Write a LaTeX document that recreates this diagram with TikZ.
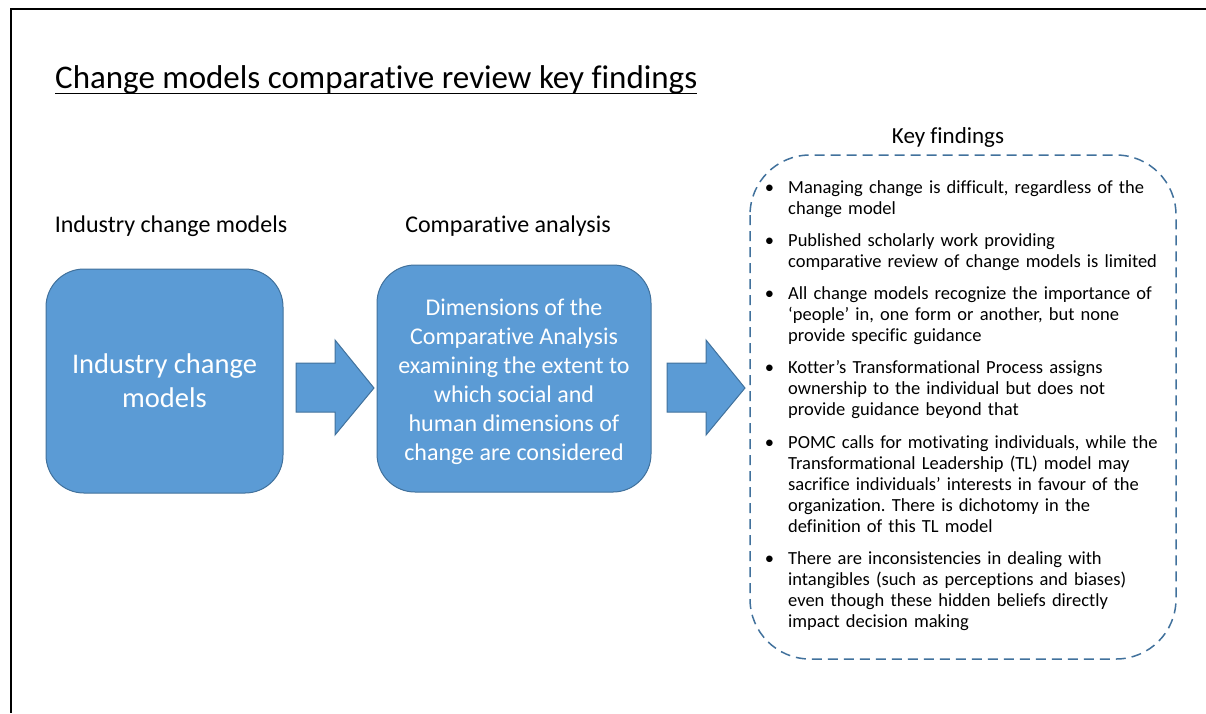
\documentclass[tikz,border=0pt]{standalone}
\usepackage{fontspec}
\setmainfont[Ligatures=CommonOff]{Carlito}
\usepackage{enumitem}
\usetikzlibrary{positioning}
\definecolor{boxblue}{RGB}{91,155,213}
\definecolor{edgeblue}{RGB}{65,113,156}
\frenchspacing
\newcommand*{\BlockArrow}[2]{% #1 = name, #2 = left x
  \draw [blockarrow] (#2,363) -- ++(39,0) -- ++(0,-23) -- ++(39,48)
    -- ++(-39,47) -- ++(0,-23) -- ++(-39,0) -- cycle;
  \coordinate (#1) at (#2+39,388);
}

\begin{document}
\begin{tikzpicture}[x=1pt,y=-1pt,
    stagebox/.style={fill=boxblue, draw=edgeblue, line width=1pt,
      rounded corners=38pt, text=white, align=center, inner sep=0pt},
    blockarrow/.style={fill=boxblue, draw=edgeblue, line width=1pt},
    heading/.style={anchor=base, inner sep=0pt, font=\fontsize{24}{28}\selectfont}]
        \useasboundingbox (0,0) rectangle (1206,713);
        % slide frame
        \draw [line width=2pt] (1206,9) -- (11,9) -- (11,713);
        % title
        \node [anchor=base west, inner sep=0pt, font=\fontsize{33}{38}\selectfont]
          (title) at (55,88) {Change models comparative review key findings};
        \draw [line width=1pt] ([yshift=-5pt]title.base west) -- ([yshift=-5pt]title.base east);
        % headings
        \node [heading] (indhead) at (171,232) {Industry change models};
        \node [heading] (comphead) at (508,232) {Comparative analysis};
        \node [heading, font=\fontsize{23}{28}\selectfont] (keyhead) at (948,143) {Key findings};
        % stages
        \node [stagebox, minimum width=237pt, minimum height=224pt,
          font=\fontsize{28.5}{34}\selectfont] (industry) at (164.5,381)
          {Industry change\\ models};
        \node [stagebox, minimum width=274pt, minimum height=227pt] (analysis) at (514,378.5) {};
        \node [text=white, align=center, inner sep=0pt, font=\fontsize{24}{29}\selectfont]
          (analysistext) at ([yshift=-3pt]analysis.center)
          {Dimensions of the\\ Comparative Analysis\\ examining the extent to\\
           which social and\\ human dimensions of\\ change are considered};
        \BlockArrow{arrowA}{296}
        \BlockArrow{arrowB}{667}
        % key findings
        \draw [edgeblue, line width=1.5pt, dash pattern=on 10pt off 6pt, rounded corners=60pt]
          (750,155) rectangle (1176,659);
        \node [anchor=north west, inner sep=0pt, text width=400pt,
          font=\fontsize{18.5}{21}\selectfont] (findings) at (762,172) {%
          \begin{itemize}[leftmargin=26pt, labelwidth=6pt, labelsep=14pt,
            itemsep=11.2pt, parsep=0pt, topsep=0pt, partopsep=0pt]
          \item Managing change is difficult, regardless of the\\ change model
          \item Published scholarly work providing\\ comparative review of change models is limited
          \item All change models recognize the importance of\\ ‘people’ in, one form or another, but none\\ provide specific guidance
          \item Kotter’s Transformational Process assigns\\ ownership to the individual but does not\\ provide guidance beyond that
          \item POMC calls for motivating individuals, while the\\ Transformational Leadership (TL) model may\\ sacrifice individuals’ interests in favour of the\\ organization. There is dichotomy in the\\ definition of this TL model
          \item There are inconsistencies in dealing with\\ intangibles (such as perceptions and biases)\\ even though these hidden beliefs directly\\ impact decision making
          \end{itemize}};
    \end{tikzpicture}
\end{document}
